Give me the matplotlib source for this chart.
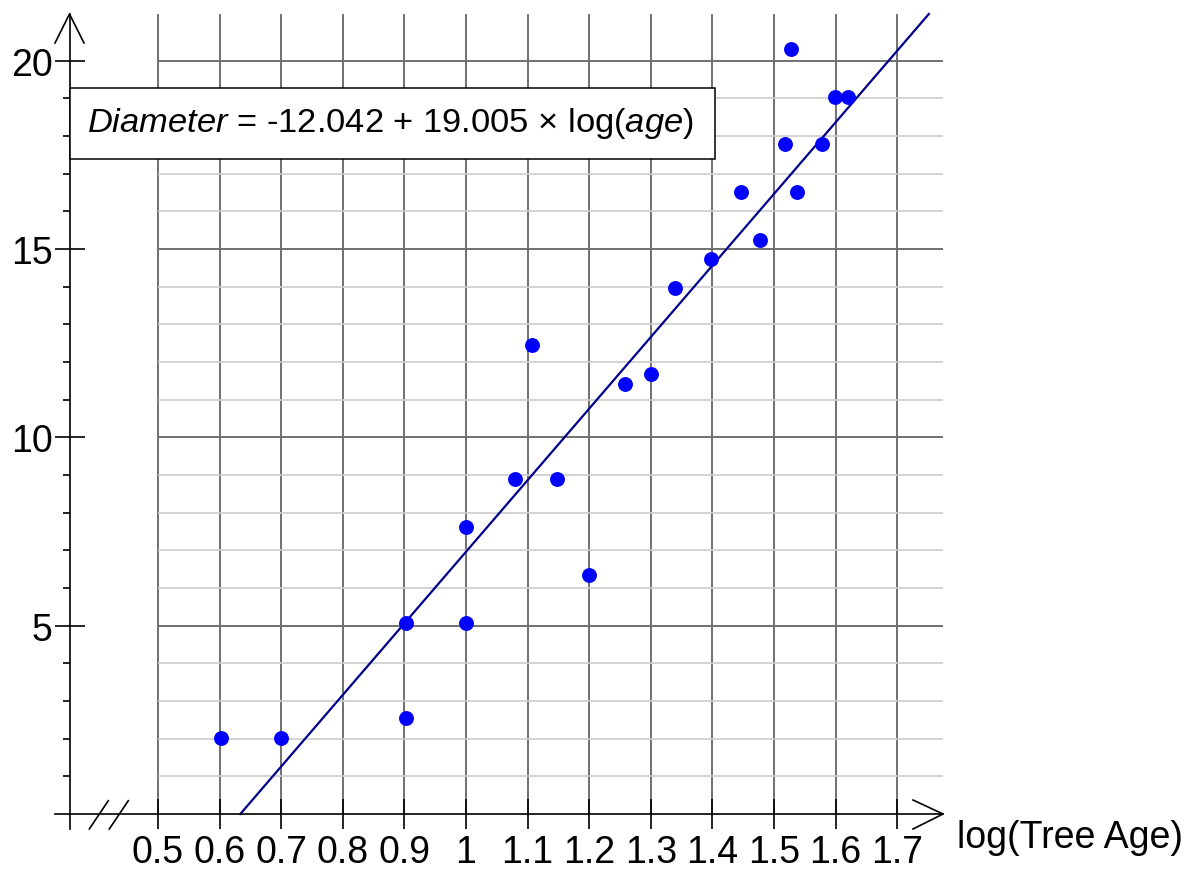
import numpy as np
import matplotlib
matplotlib.use("Agg")
import matplotlib.pyplot as plt
from matplotlib.patches import Rectangle

plt.rcParams['font.family'] = ['Liberation Sans', 'DejaVu Sans']
plt.rcParams['mathtext.fontset'] = 'custom'
plt.rcParams['mathtext.rm'] = 'Liberation Sans'
plt.rcParams['mathtext.it'] = 'Liberation Sans:italic'

# ============ DATA ============
log_age = [0.602, 0.699, 0.903, 0.903, 1.000, 1.000, 1.079, 1.107, 1.148,
           1.200, 1.258, 1.300, 1.340, 1.398, 1.446, 1.477, 1.518, 1.528,
           1.537, 1.578, 1.599, 1.620]
diameter = [2.03, 2.03, 5.08, 2.54, 7.62, 5.08, 8.89, 12.45, 8.89,
            6.35, 11.43, 11.68, 13.97, 14.73, 16.51, 15.24, 17.78, 20.32,
            16.51, 17.78, 19.05, 19.05]
intercept, slope = -12.042, 19.005

x_ticks = [0.5, 0.6, 0.7, 0.8, 0.9, 1.0, 1.1, 1.2, 1.3, 1.4, 1.5, 1.6, 1.7]
x_tick_labels = ['0.5', '0.6', '0.7', '0.8', '0.9', '1', '1.1', '1.2', '1.3',
                 '1.4', '1.5', '1.6', '1.7']
y_major = [5, 10, 15, 20]
y_minor = [v for v in range(1, 20) if v % 5]
x_label = 'log(Tree Age)'
equation = r'$\mathit{Diameter}$ = -12.042 + 19.005 × log($\mathit{age}$)'

# ============ LAYOUT (pixel -> data) ============
W, H = 1199, 878
def px_x(p):
    return 0.5 + (p - 158) / 616.0

def px_y(p):
    return (815 - p) / 37.66

fig = plt.figure(figsize=(W / 100, H / 100), dpi=100)
ax = fig.add_axes([0, 0, 1, 1])
ax.set_xlim(px_x(0), px_x(W))
ax.set_ylim(px_y(H), px_y(0))

x_axis = px_x(69.5)      # broken axis: y axis drawn left of 0.5
x_end = px_x(943)
y_top = px_y(15)

# grid
ax.vlines(x_ticks, 0, y_top, color='#707070', lw=1.4, zorder=1)
ax.hlines(y_minor, 0.5, x_end, color='#cccccc', lw=1.2, zorder=1)
ax.hlines(y_major, 0.5, x_end, color='#707070', lw=1.4, zorder=1)

# spines / ticks
for s in ['top', 'right']:
    ax.spines[s].set_visible(False)
ax.spines['left'].set_position(('data', x_axis))
ax.spines['bottom'].set_position(('data', 0))
ax.spines['left'].set_bounds(px_y(830), y_top)
ax.spines['bottom'].set_bounds(px_x(55), x_end)
for s in ['left', 'bottom']:
    ax.spines[s].set_linewidth(1.2)
    ax.spines[s].set_zorder(4)

ax.set_xticks(x_ticks)
ax.set_xticklabels(x_tick_labels)
ax.set_yticks(y_major)
ax.set_yticks(y_minor, minor=True)
ax.tick_params(axis='x', direction='inout', length=20.9, width=1.2, pad=4,
               labelsize=27)
ax.tick_params(axis='y', which='major', direction='inout', length=20.9,
               width=1.2, pad=1.5, labelsize=27)
ax.tick_params(axis='y', which='minor', direction='out', length=5.4, width=1.2)

# arrow heads
ax.plot([px_x(55), x_axis, px_x(84)], [px_y(44), y_top, px_y(44)],
        color='black', lw=1.2, zorder=5, clip_on=False)
ax.plot([px_x(913), x_end, px_x(913)], [px_y(801), 0, px_y(830)],
        color='black', lw=1.2, zorder=5, clip_on=False)

# axis break marks
for p in [89.3, 109.3]:
    ax.plot([px_x(p), px_x(p + 19)], [px_y(830), px_y(801.7)],
            color='black', lw=1.2, zorder=5)

# regression line, clipped to the plotting region
x0 = -intercept / slope
x1 = (y_top - intercept) / slope
ax.plot([x0, x1], [intercept + slope * x0, intercept + slope * x1],
        color='#00008b', lw=1.6, zorder=3)

ax.scatter(log_age, diameter, s=115, color='#0000ff', zorder=4, linewidths=0)

# equation box
ax.add_patch(Rectangle((x_axis, px_y(159.5)), px_x(715) - x_axis,
                       px_y(89) - px_y(159.5), facecolor='white',
                       edgecolor='black', lw=1.1, zorder=6))
ax.text(px_x(87), px_y(124), equation, fontsize=24.8, va='center',
        ha='left', zorder=7)

ax.text(px_x(957), px_y(838), x_label, fontsize=27, va='center', ha='left')

fig.savefig('out.png', dpi=100)
